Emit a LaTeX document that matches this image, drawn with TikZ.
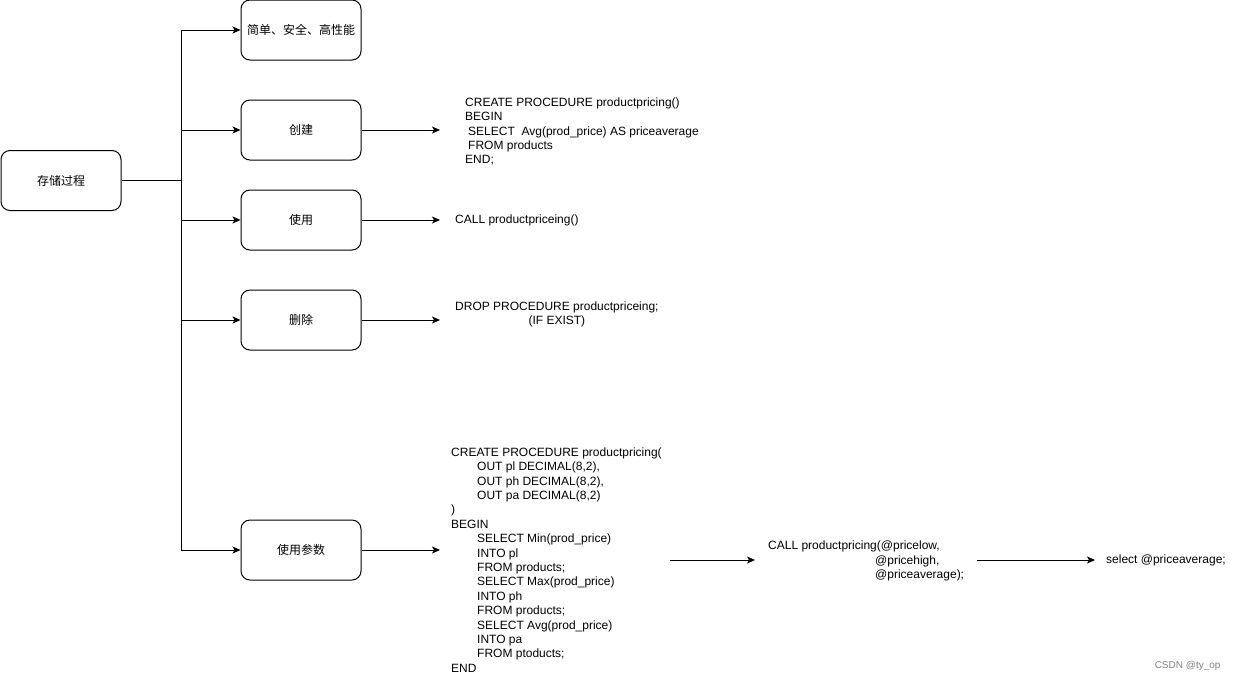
\documentclass[tikz,border=0pt]{standalone}
\usepackage{fontspec}
\setmainfont{Liberation Sans}
\newfontfamily\cjk{Noto Sans CJK SC}
\usetikzlibrary{arrows.meta}

\begin{document}
\begin{tikzpicture}[
            x=1pt, y=-1pt,
            roundbox/.style={rectangle, rounded corners=9pt, draw=black, line width=1pt,
              minimum width=120pt, minimum height=60pt, font=\cjk\fontsize{12}{14.4}\selectfont},
            codetext/.style={anchor=west, inner ysep=0pt, align=left,
              font=\fontsize{12}{14.4}\selectfont},
            arr/.style={line width=1pt, -{Stealth[length=8pt, width=7pt, inset=2pt]}}
          ]
          \useasboundingbox (0,0) rectangle (1236,681);

          %Nodes
          \node[roundbox] at (61,180.5) (root) {存储过程};
          \node[roundbox] at (301,30) (adv) {简单、安全、高性能};
          \node[roundbox] at (301,130) (create) {创建};
          \node[roundbox] at (301,220) (use) {使用};
          \node[roundbox] at (301,320) (drop) {删除};
          \node[roundbox] at (301,550) (param) {使用参数};
          \coordinate (fork) at (181,180.5);

          \node[codetext, inner xsep=25pt] at (440,131.5) (createcode) {CREATE PROCEDURE productpricing()\\
            BEGIN\\
            \hspace*{3pt}SELECT\ \ Avg(prod\_price) AS priceaverage\\
            \hspace*{3pt}FROM products\\
            END;};
          \node[codetext, inner xsep=15pt] at (440,220.5) (usecode) {CALL productpriceing()};
          \node[codetext, inner xsep=15pt, align=center] at (440,314.5) (dropcode) {DROP PROCEDURE productpriceing;\\(IF EXIST)};
          \node[codetext, inner xsep=11pt] at (440,560) (paramcode) {CREATE PROCEDURE productpricing(\\
            \hspace*{26pt}OUT pl DECIMAL(8,2),\\
            \hspace*{26pt}OUT ph DECIMAL(8,2),\\
            \hspace*{26pt}OUT pa DECIMAL(8,2)\\
            )\\
            BEGIN\\
            \hspace*{26pt}SELECT Min(prod\_price)\\
            \hspace*{26pt}INTO pl\\
            \hspace*{26pt}FROM products;\\
            \hspace*{26pt}SELECT Max(prod\_price)\\
            \hspace*{26pt}INTO ph\\
            \hspace*{26pt}FROM products;\\
            \hspace*{26pt}SELECT Avg(prod\_price)\\
            \hspace*{26pt}INTO pa\\
            \hspace*{26pt}FROM ptoducts;\\
            END};
          \coordinate (callin) at (670,560);
          \node[codetext, inner xsep=13pt] at (755,561) (callcode) {CALL productpricing(@pricelow,\\
            \hspace*{107pt}@pricehigh,\\
            \hspace*{107pt}@priceaverage);};
          \node[codetext, inner xsep=11pt] at (1095,560) (selectcode) {select @priceaverage;};

          %Lines
          \draw[line width=1pt] (root) -- (fork);
          \draw[arr] (fork) |- (adv);
          \draw[arr] (fork) |- (create);
          \draw[arr] (fork) |- (use);
          \draw[arr] (fork) |- (drop);
          \draw[arr] (fork) |- (param);
          \draw[arr] (create) -- (create.east -| createcode.west);
          \draw[arr] (use) -- (use.east -| usecode.west);
          \draw[arr] (drop) -- (drop.east -| dropcode.west);
          \draw[arr] (param) -- (param.east -| paramcode.west);
          \draw[arr] (callin) -- (callin -| callcode.west);
          \draw[arr] (callcode.east |- selectcode.west) -- (selectcode.west);

          %Labels
          \node[anchor=east, text=gray, font=\fontsize{10}{12}\selectfont] at (1224,666) (mark) {CSDN @ty\_op};

        \end{tikzpicture}
\end{document}
